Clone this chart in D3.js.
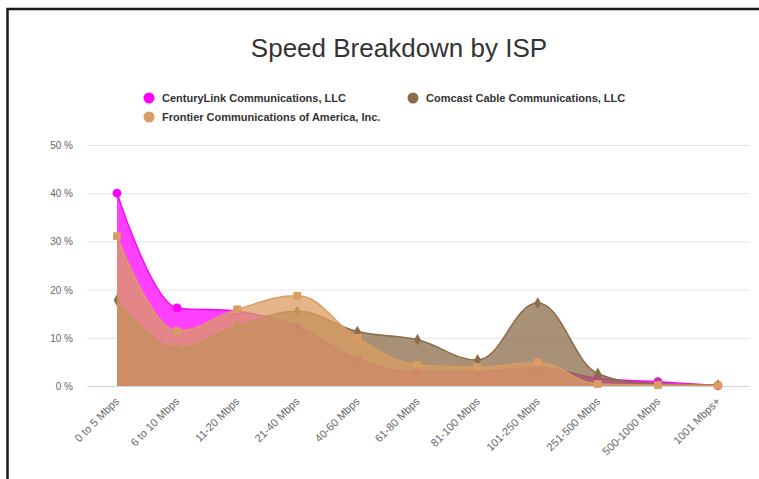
<!DOCTYPE html>
<html>
<head>
<meta charset="utf-8">
<script src="https://cdn.jsdelivr.net/npm/d3@7"></script>
<style>
  body { margin: 0; background: #fff; }
  svg { display: block; font-family: "Liberation Sans", Arial, sans-serif; }
</style>
</head>
<body>
<div id="chart"></div>
<script>
// chart data
var categories = ["0 to 5 Mbps", "6 to 10 Mbps", "11-20 Mbps", "21-40 Mbps", "40-60 Mbps",
  "61-80 Mbps", "81-100 Mbps", "101-250 Mbps", "251-500 Mbps", "500-1000 Mbps", "1001 Mbps+"];
var centuryLink = [40, 16.2, 15.5, 12.3, 5.6, 3, 3, 3.8, 1.6, 0.9, 0.1];
var comcast     = [17.8, 8, 12.4, 15.5, 11.3, 9.6, 5.4, 17.2, 2.6, 0.5, 0.2];
var frontier    = [31.1, 11.4, 15.9, 18.7, 10, 4.4, 3.9, 4.9, 0.4, 0.2, 0.1];
var yTicks = [0, 10, 20, 30, 40, 50];

var series = [
  {name: "CenturyLink Communications, LLC", values: centuryLink, color: "#ff00ff", symbol: "circle"},
  {name: "Comcast Cable Communications, LLC", values: comcast, color: "#8c6c4a", symbol: "diamond"},
  {name: "Frontier Communications of America, Inc.", values: frontier, color: "#d99c62", symbol: "square"}
];

var W = 759, H = 479;
var svg = d3.select("#chart").append("svg").attr("width", W).attr("height", H);

// frame
svg.append("rect").attr("x", 7.5).attr("y", 9).attr("width", 800).attr("height", 500)
  .attr("fill", "none").attr("stroke", "#1a1a1a").attr("stroke-width", 2.5);

// title
svg.append("text").attr("x", 399).attr("y", 57).attr("text-anchor", "middle")
  .style("font-size", "26px").style("fill", "#333").text("Speed Breakdown by ISP");

// legend
var legendPos = [[149, 98], [413, 98], [149, 117]];
var lg = svg.selectAll(".legend").data(series).enter().append("g")
  .attr("class", "legend")
  .attr("transform", function(d, i) { return "translate(" + legendPos[i][0] + "," + legendPos[i][1] + ")"; });
lg.append("circle").attr("r", 5.5).attr("fill", function(d) { return d.color; });
lg.append("text").attr("x", 13).attr("y", 4).style("font-size", "11px").style("font-weight", "bold")
  .style("fill", "#333").text(function(d) { return d.name; });

// scales
var x = d3.scalePoint().domain(categories).range([117, 718]);
var y = d3.scaleLinear().domain([0, 50]).range([386, 145]);

// grid + y labels
svg.selectAll(".grid").data(yTicks).enter().append("line")
  .attr("x1", 87).attr("x2", 750)
  .attr("y1", function(d) { return y(d) + 0.5; }).attr("y2", function(d) { return y(d) + 0.5; })
  .attr("stroke", function(d) { return d === 0 ? "#ccd6eb" : "#e6e6e6"; }).attr("stroke-width", 1);
svg.selectAll(".ylab").data(yTicks).enter().append("text")
  .attr("x", 73).attr("y", function(d) { return y(d) + 4; }).attr("text-anchor", "end")
  .style("font-size", "10px").style("fill", "#666").text(function(d) { return d + " %"; });

// x labels
svg.selectAll(".xlab").data(categories).enter().append("text")
  .attr("text-anchor", "end")
  .attr("transform", function(d) { return "translate(" + (x(d) + 3) + ",402) rotate(-45)"; })
  .style("font-size", "11px").style("fill", "#666").text(function(d) { return d; });

// highcharts-like spline path
function splinePath(pts) {
  var s = 1.5, den = s + 1, path = "M" + pts[0][0] + "," + pts[0][1];
  var rc = [];
  for (var i = 0; i < pts.length; i++) {
    if (i > 0 && i < pts.length - 1) {
      var px = pts[i][0], py = pts[i][1], lx = pts[i-1][0], ly = pts[i-1][1], nx = pts[i+1][0], ny = pts[i+1][1];
      var lcx = (s * px + lx) / den, lcy = (s * py + ly) / den;
      var rcx = (s * px + nx) / den, rcy = (s * py + ny) / den;
      var corr = (rcy - lcy) * (rcx - px) / (rcx - lcx) + py - rcy;
      lcy += corr; rcy += corr;
      if (lcy > ly && lcy > py) { lcy = Math.max(ly, py); rcy = 2 * py - lcy; }
      else if (lcy < ly && lcy < py) { lcy = Math.min(ly, py); rcy = 2 * py - lcy; }
      if (rcy > ny && rcy > py) { rcy = Math.max(ny, py); lcy = 2 * py - rcy; }
      else if (rcy < ny && rcy < py) { rcy = Math.min(ny, py); lcy = 2 * py - rcy; }
      rc[i] = [rcx, rcy, lcx, lcy];
    }
    if (i > 0) {
      var prev = rc[i-1] ? [rc[i-1][0], rc[i-1][1]] : pts[i-1];
      var left = rc[i] ? [rc[i][2], rc[i][3]] : pts[i];
      path += "C" + prev[0] + "," + prev[1] + " " + left[0] + "," + left[1] + " " + pts[i][0] + "," + pts[i][1];
    }
  }
  return path;
}

var sym = {circle: d3.symbolCircle, diamond: d3.symbolDiamond, square: d3.symbolSquare};

series.forEach(function(s) {
  var pts = s.values.map(function(v, i) { return [x(categories[i]), y(v)]; });
  var line = splinePath(pts);
  var g = svg.append("g");
  g.append("path")
    .attr("d", line + "L" + pts[pts.length-1][0] + "," + y(0) + "L" + pts[0][0] + "," + y(0) + "Z")
    .attr("fill", s.color).attr("fill-opacity", 0.75);
  g.append("path").attr("d", line).attr("fill", "none").attr("stroke", s.color).attr("stroke-width", 1.5);
  g.selectAll(".pt").data(pts).enter().append("path")
    .attr("transform", function(d) { return "translate(" + d[0] + "," + d[1] + ")"; })
    .attr("d", d3.symbol().type(sym[s.symbol]).size(s.symbol === "diamond" ? 40 : 60))
    .attr("fill", s.color);
});
</script>
</body>
</html>
